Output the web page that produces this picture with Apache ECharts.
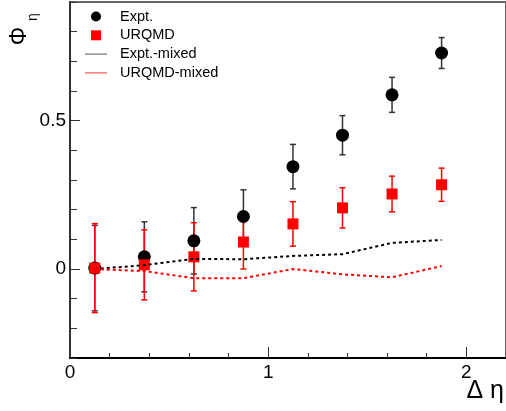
<!DOCTYPE html>
<html>
<head>
<meta charset="utf-8">
<script src="https://cdn.jsdelivr.net/npm/echarts@6/dist/echarts.min.js"></script>
<style>
  html, body { margin: 0; padding: 0; background: #fff; }
  #main { width: 506px; height: 411px; }
</style>
</head>
<body>
<div id="main"></div>
<script>
// bin centres in delta eta
var etaBins = [0.125, 0.375, 0.625, 0.875, 1.125, 1.375, 1.625, 1.875];
// Expt. points and errors
var exptPhi = [0.003, 0.041, 0.095, 0.177, 0.345, 0.451, 0.587, 0.728];
var exptErr = [0.144, 0.118, 0.112, 0.090, 0.075, 0.066, 0.059, 0.052];
// URQMD points and errors
var urqmdPhi = [0.003, 0.014, 0.041, 0.091, 0.152, 0.206, 0.253, 0.284];
var urqmdErr = [0.150, 0.118, 0.115, 0.091, 0.075, 0.068, 0.060, 0.056];
// mixed event baselines
var exptMixed = [0.0, 0.013, 0.034, 0.033, 0.044, 0.050, 0.088, 0.098];
var urqmdMixed = [0.0, -0.007, -0.031, -0.031, 0.0, -0.018, -0.028, 0.010];
// tick labels
var xLabels = [0, 1, 2];
var yLabels = [0, 0.5];

function pairs(ys) {
  return etaBins.map(function (x, i) { return [x, ys[i]]; });
}
function bars(ys, errs) {
  return etaBins.map(function (x, i) { return [x, ys[i] - errs[i], ys[i] + errs[i]]; });
}
function errorBar(color) {
  return function (params, api) {
    var x = api.value(0);
    var top = api.coord([x, api.value(2)]);
    var bot = api.coord([x, api.value(1)]);
    var w = 3;
    var st = { stroke: color, lineWidth: 1.5 };
    return {
      type: 'group',
      children: [
        { type: 'line', shape: { x1: top[0], y1: top[1], x2: bot[0], y2: bot[1] }, style: st },
        { type: 'line', shape: { x1: top[0] - w, y1: top[1], x2: top[0] + w, y2: top[1] }, style: st },
        { type: 'line', shape: { x1: bot[0] - w, y1: bot[1], x2: bot[0] + w, y2: bot[1] }, style: st }
      ]
    };
  };
}

var myChart = echarts.init(document.getElementById('main'));
var font = 'Liberation Sans';
var lineIcon = 'path://M0,0H22V1H0Z';

var option = {
  animation: false,
  grid: {
    left: 70, right: -2, top: 2, bottom: 53,
    show: true, borderColor: '#666', borderWidth: 2
  },
  legend: {
    left: 85, top: 9, orient: 'vertical', padding: 0,
    itemWidth: 22, itemHeight: 10, itemGap: 3.8,
    textStyle: { fontFamily: font, fontSize: 14.5, color: '#000', padding: [0, 0, 0, 8] },
    data: [
      { name: 'Expt.', icon: 'circle' },
      { name: 'URQMD', icon: 'path://M0,0H1V1H0Z' },
      { name: 'Expt.-mixed', icon: lineIcon, itemStyle: { color: '#555' } },
      { name: 'URQMD-mixed', icon: lineIcon, itemStyle: { color: '#ff3030' } }
    ]
  },
  xAxis: [
    {
      type: 'value', min: 0, max: 2.2, position: 'bottom',
      axisLine: { onZero: false, lineStyle: { color: '#000', width: 2 } },
      axisTick: { inside: true, length: 11, customValues: xLabels, lineStyle: { color: '#333' } },
      axisLabel: { customValues: xLabels, margin: 5, fontFamily: font, fontSize: 19, color: '#000' },
      splitLine: { show: false }
    },
    {
      type: 'value', min: 0, max: 2.2, interval: 0.2, position: 'bottom',
      axisLine: { show: false, onZero: false },
      axisTick: { inside: true, length: 5, lineStyle: { color: '#333' } },
      axisLabel: { show: false },
      splitLine: { show: false }
    }
  ],
  yAxis: [
    {
      type: 'value', min: -0.3, max: 0.9, position: 'left',
      axisLine: { onZero: false, lineStyle: { color: '#333', width: 2 } },
      axisTick: { inside: true, length: 10, customValues: yLabels, lineStyle: { color: '#333' } },
      axisLabel: { customValues: yLabels, margin: 4, fontFamily: font, fontSize: 19, color: '#000' },
      splitLine: { show: false }
    },
    {
      type: 'value', min: -0.3, max: 0.9, interval: 0.1, position: 'left',
      axisLine: { show: false, onZero: false },
      axisTick: { inside: true, length: 7, lineStyle: { color: '#333' } },
      axisLabel: { show: false },
      splitLine: { show: false }
    }
  ],
  graphic: [
    {
      type: 'group', x: 20, y: 36, rotation: Math.PI / 2,
      children: [
        { type: 'text', x: 0, y: 0, style: { text: 'Φ', fontFamily: font, fontSize: 23, fill: '#000', align: 'center', verticalAlign: 'middle' } },
        { type: 'text', x: 19, y: 13, style: { text: 'η', fontFamily: font, fontSize: 14, fill: '#000', align: 'center', verticalAlign: 'middle' } }
      ]
    },
    {
      type: 'text', x: 504, y: 391,
      style: { text: 'Δ η', fontFamily: font, fontSize: 25, fill: '#000', align: 'right', verticalAlign: 'middle' }
    }
  ],
  series: [
    {
      name: 'Expt.-mixed', type: 'line', data: pairs(exptMixed), symbol: 'none',
      lineStyle: { color: '#000', width: 2, type: [3, 3] }, itemStyle: { color: '#000' }
    },
    {
      name: 'URQMD-mixed', type: 'line', data: pairs(urqmdMixed), symbol: 'none',
      lineStyle: { color: '#ff0000', width: 2, type: [3, 3] }, itemStyle: { color: '#ff0000' }
    },
    {
      name: 'Expt. err', type: 'custom', renderItem: errorBar('#333'),
      encode: { x: 0, y: [1, 2] }, data: bars(exptPhi, exptErr)
    },
    {
      name: 'Expt.', type: 'scatter', data: pairs(exptPhi), symbol: 'circle', symbolSize: 13,
      itemStyle: { color: '#000', opacity: 1 }
    },
    {
      name: 'URQMD err', type: 'custom', renderItem: errorBar('#ff0000'),
      encode: { x: 0, y: [1, 2] }, data: bars(urqmdPhi, urqmdErr)
    },
    {
      name: 'URQMD', type: 'scatter', data: pairs(urqmdPhi), symbol: 'rect', symbolSize: 11,
      itemStyle: { color: '#ff0000', opacity: 1 }
    }
  ]
};
myChart.setOption(option);
</script>
</body>
</html>
